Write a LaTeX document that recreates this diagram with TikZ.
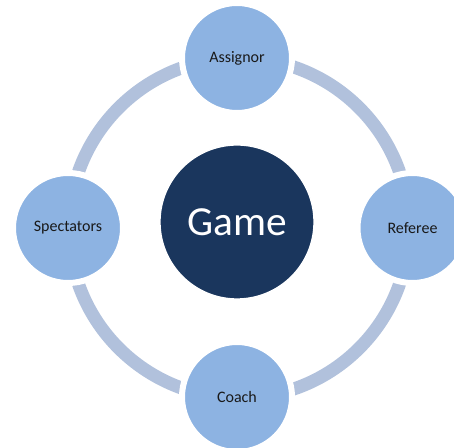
\documentclass[tikz,border=0pt]{standalone}
\usepackage{fontspec}
\setmainfont{Carlito}
\definecolor{ringc}{HTML}{B1C1DC}
\definecolor{outerc}{HTML}{8DB3E2}
\definecolor{gamec}{HTML}{1A365D}
\begin{document}
\begin{tikzpicture}[x=0.75pt,y=-0.75pt,
  outer/.style={circle,fill=outerc,draw=white,line width=4.5pt,minimum size=110*0.75pt,inner sep=0pt,font=\fontsize{12}{14}\selectfont,text=black!90},
  center/.style={circle,fill=gamec,draw=white,line width=1pt,minimum size=154*0.75pt,inner sep=0pt,font=\fontsize{31}{36}\selectfont,text=white}]
\useasboundingbox (0,0) rectangle (454,448);
\coordinate (o) at (239,228);
\draw[ringc,line width=13*0.75pt] (o) circle [radius=170];
\node[center] (game) at (237,222) {Game};
\node[outer] (assignor) at (237,58) {Assignor};
\node[outer] (referee) at (412.5,228) {Referee};
\node[outer] (coach) at (237,397) {Coach};
\node[outer] (spectators) at (68,228) {Spectators};
\end{tikzpicture}
\end{document}
